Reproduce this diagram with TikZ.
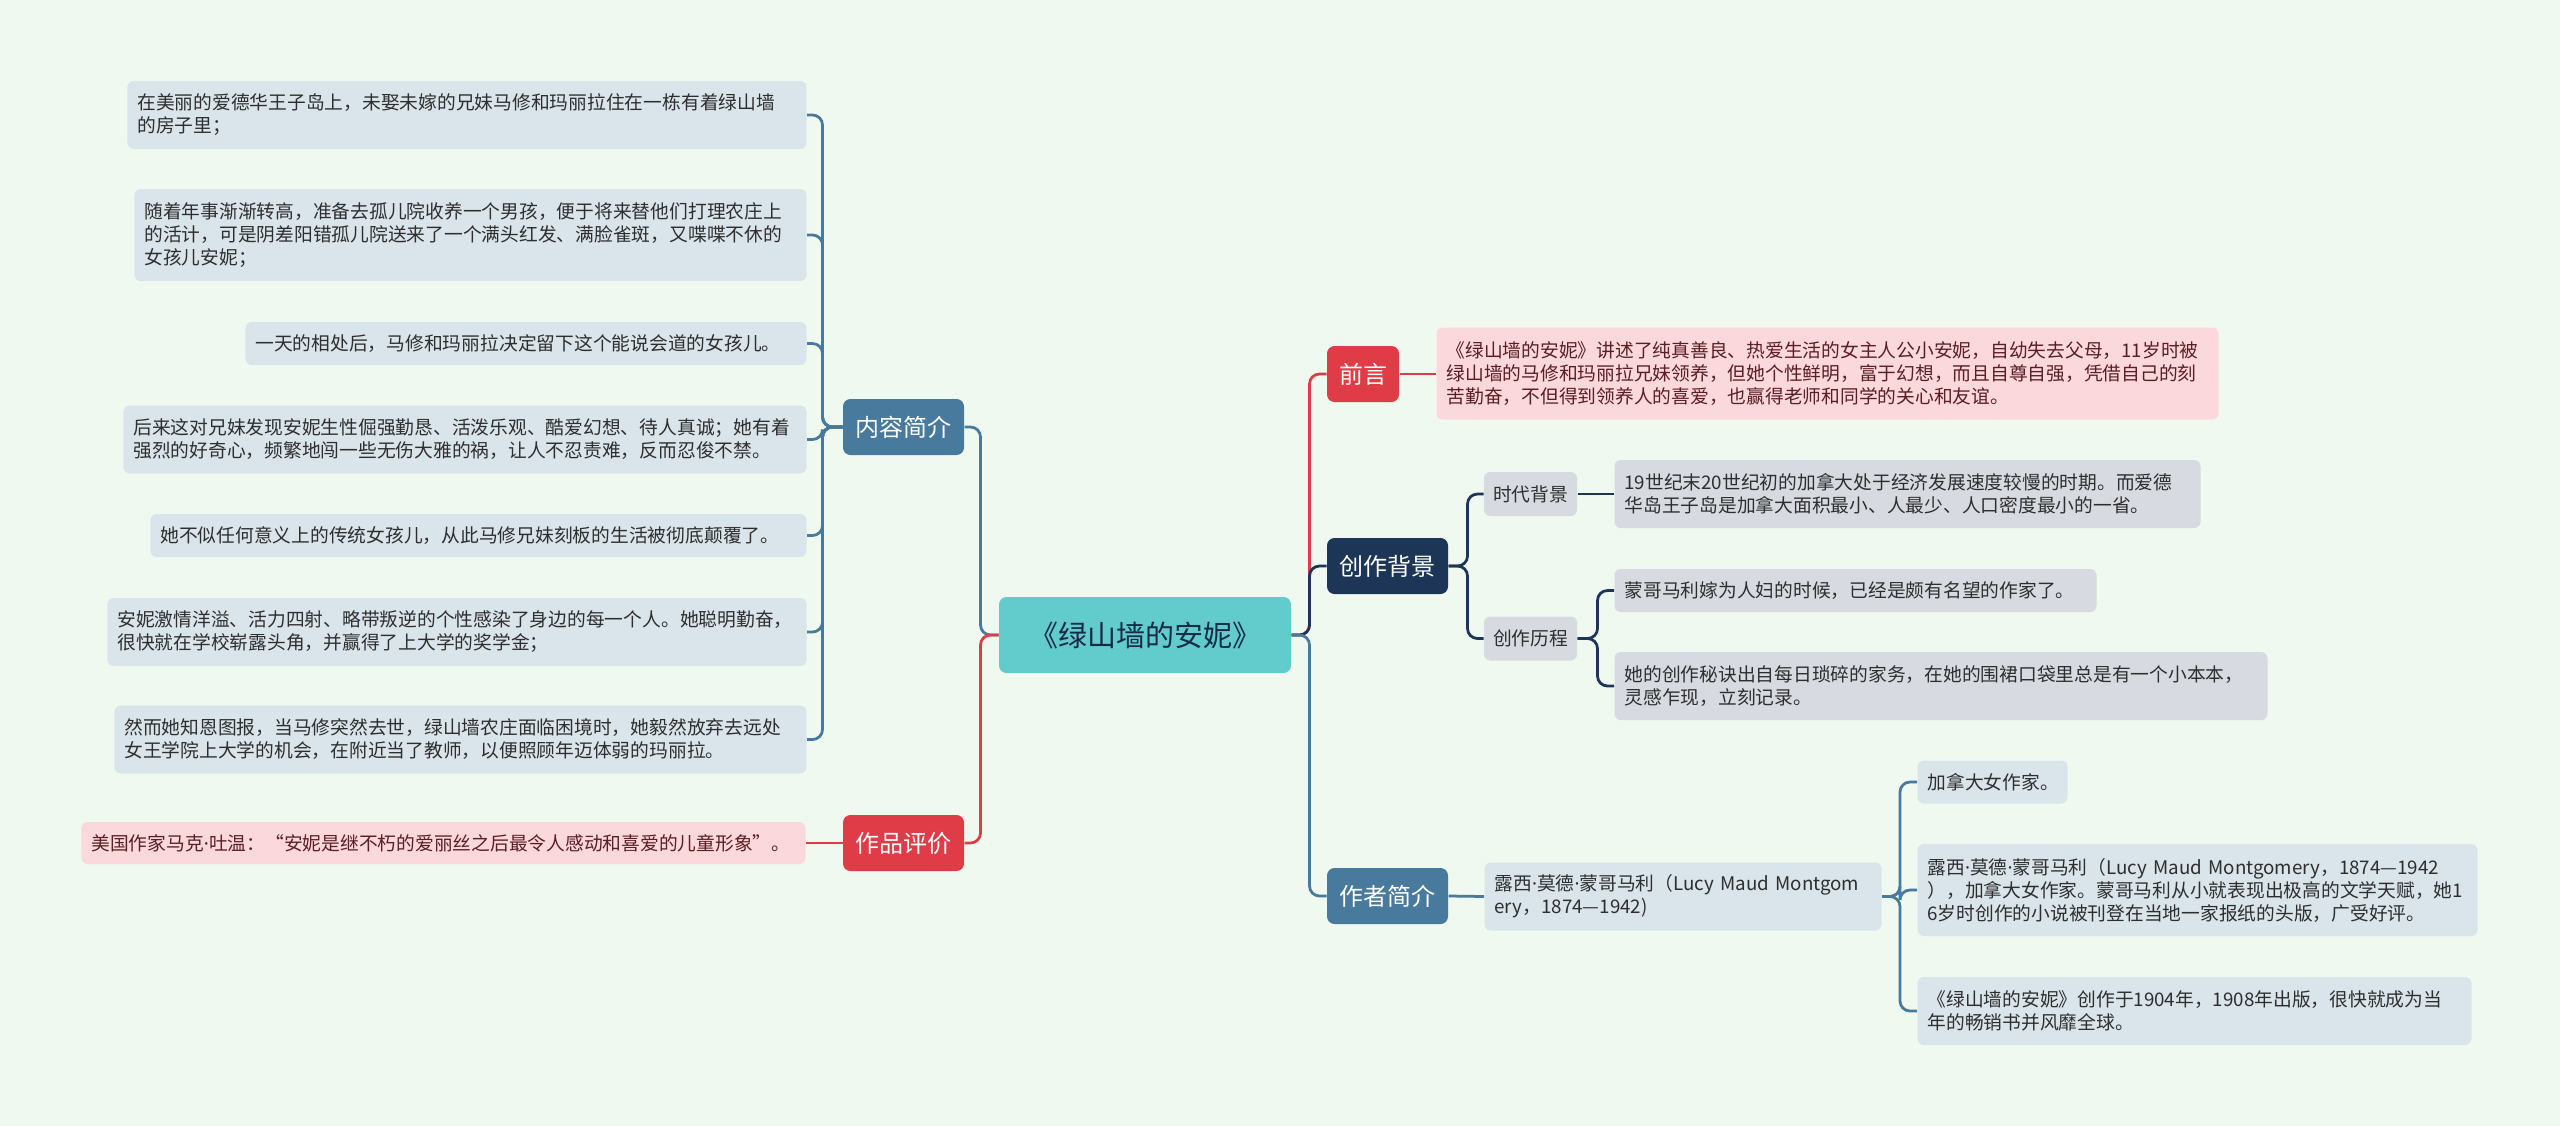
\documentclass[tikz,border=0pt]{standalone}
\usepackage{fontspec}
\setmainfont{Noto Sans CJK SC}
\newfontfamily\latfont{Noto Sans}
\newcommand{\mpkt}{{\latfont ·}}

\definecolor{hgrund}{HTML}{F0F9EF}
\definecolor{tuerkis}{HTML}{62CBCC}
\definecolor{stahlblau}{HTML}{477A9C}
\definecolor{rot}{HTML}{E03C48}
\definecolor{marine}{HTML}{1D3557}
\definecolor{hellblau}{HTML}{DAE4EB}
\definecolor{rosa}{HTML}{FAD8DC}
\definecolor{grau}{HTML}{D7DBE1}
\definecolor{schrift}{HTML}{2E2E2E}
\definecolor{braun}{HTML}{5A1E24}

\begin{document}
\begin{tikzpicture}[x=0.4pt,y=-0.4pt,
	haupt/.style={rounded corners=3pt,minimum width=48.4pt,minimum height=22.4pt,inner sep=0pt,text=white,font=\fontsize{9.6}{11}\selectfont},
	blatt/.style={rounded corners=2.5pt,inner xsep=4pt,inner ysep=0pt,align=left,font=\fontsize{7.5}{9.2}\selectfont,text=schrift,execute at begin node={\hyphenpenalty=10000\relax}},
	z1/.style={minimum height=17.2pt},
	z2/.style={minimum height=27.2pt},
	z3/.style={minimum height=36.8pt},
	ast/.style={line width=1.1pt,rounded corners=4pt}]
	% Hintergrund
	\fill[hgrund] (0,0) rectangle (2560,1126);
	\useasboundingbox (0,0) rectangle (2560,1126);
	
	% Zentrum
	\node[fill=tuerkis,rounded corners=3pt,minimum width=116.8pt,minimum height=30.4pt,text=marine!80!black,font=\fontsize{11.6}{13}\selectfont] (mitte) at (1145,635) {《绿山墙的安妮》};
	
	% Hauptzweige
	\node[haupt,fill=stahlblau] (inhalt) at (903.5,427) {内容简介};
	\node[haupt,fill=rot] (bewertung) at (903.5,843) {作品评价};
	\node[haupt,fill=rot,minimum width=28.8pt] (vorwort) at (1363,374) {前言};
	\node[haupt,fill=marine] (hintergrund) at (1387.5,566) {创作背景};
	\node[haupt,fill=stahlblau] (autor) at (1387.5,896) {作者简介};
	
	% Inhalt links
	\node[blatt,z2,fill=hellblau,anchor=east,text width=263.6pt] (l1) at (807,115) {在美丽的爱德华王子岛上，未娶未嫁的兄妹马修和玛丽拉住在一栋有着绿山墙\\的房子里；};
	\node[blatt,z3,fill=hellblau,anchor=east,text width=260.8pt] (l2) at (807,235) {随着年事渐渐转高，准备去孤儿院收养一个男孩，便于将来替他们打理农庄上\\的活计，可是阴差阳错孤儿院送来了一个满头红发、满脸雀斑，又喋喋不休的\\女孩儿安妮；};
	\node[blatt,z1,fill=hellblau,anchor=east,text width=216.4pt] (l3) at (807,343.5) {一天的相处后，马修和玛丽拉决定留下这个能说会道的女孩儿。};
	\node[blatt,z2,fill=hellblau,anchor=east,text width=265.2pt] (l4) at (807,439.5) {后来这对兄妹发现安妮生性倔强勤恳、活泼乐观、酷爱幻想、待人真诚；她有着\\强烈的好奇心，频繁地闯一些无伤大雅的祸，让人不忍责难，反而忍俊不禁。};
	\node[blatt,z1,fill=hellblau,anchor=east,text width=254.4pt] (l5) at (807,535.5) {她不似任何意义上的传统女孩儿，从此马修兄妹刻板的生活被彻底颠覆了。};
	\node[blatt,z2,fill=hellblau,anchor=east,text width=271.6pt] (l6) at (807,632) {安妮激情洋溢、活力四射、略带叛逆的个性感染了身边的每一个人。她聪明勤奋，\\很快就在学校崭露头角，并赢得了上大学的奖学金；};
	\node[blatt,z2,fill=hellblau,anchor=east,text width=268.8pt] (l7) at (807,739.5) {然而她知恩图报，当马修突然去世，绿山墙农庄面临困境时，她毅然放弃去远处\\女王学院上大学的机会，在附近当了教师，以便照顾年迈体弱的玛丽拉。};
	\node[blatt,fill=rosa,text=braun,minimum height=16.8pt,anchor=east,text width=281.6pt] (b1) at (806,843) {美国作家马克\mpkt 吐温：“安妮是继不朽的爱丽丝之后最令人感动和喜爱的儿童形象”。};
	
	% rechte Seite
	\node[blatt,z3,fill=rosa,text=braun,anchor=west,text width=304.8pt] (v1) at (1436,373.5) {《绿山墙的安妮》讲述了纯真善良、热爱生活的女主人公小安妮，自幼失去父母，11岁时被\\绿山墙的马修和玛丽拉兄妹领养，但她个性鲜明，富于幻想，而且自尊自强，凭借自己的刻\\苦勤奋，不但得到领养人的喜爱，也赢得老师和同学的关心和友谊。};
	\node[blatt,fill=grau,minimum width=37.2pt,minimum height=17.6pt,inner xsep=0pt,align=center] (zeit) at (1530.5,494) {时代背景};
	\node[blatt,fill=grau,minimum width=37.2pt,minimum height=17.6pt,inner xsep=0pt,align=center] (prozess) at (1530.5,638.5) {创作历程};
	\node[blatt,z2,fill=grau,anchor=west,text width=226.4pt] (z1) at (1614,494) {19世纪末20世纪初的加拿大处于经济发展速度较慢的时期。而爱德\\华岛王子岛是加拿大面积最小、人最少、人口密度最小的一省。};
	\node[blatt,z1,fill=grau,anchor=west,text width=184.8pt] (p1) at (1614,590.5) {蒙哥马利嫁为人妇的时候，已经是颇有名望的作家了。};
	\node[blatt,z2,fill=grau,anchor=west,text width=253.2pt] (p2) at (1614,686) {她的创作秘诀出自每日琐碎的家务，在她的围裙口袋里总是有一个小本本，\\灵感乍现，立刻记录。};
	\node[blatt,z2,fill=hellblau,anchor=west,text width=150.8pt] (a0) at (1484,896.5) {露西\mpkt 莫德\mpkt 蒙哥马利（Lucy~Maud~Montgom\\ery，1874—1942)};
	\node[blatt,z1,fill=hellblau,anchor=west,text width=52pt] (a1) at (1917,782) {加拿大女作家。};
	\node[blatt,z3,fill=hellblau,anchor=west,text width=216pt] (a2) at (1917,890) {露西\mpkt 莫德\mpkt 蒙哥马利（Lucy Maud Montgomery，1874—1942\\），加拿大女作家。蒙哥马利从小就表现出极高的文学天赋，她1\\6岁时创作的小说被刊登在当地一家报纸的头版，广受好评。};
	\node[blatt,z2,fill=hellblau,anchor=west,text width=213.6pt] (a3) at (1917,1011) {《绿山墙的安妮》创作于1904年，1908年出版，很快就成为当\\年的畅销书并风靡全球。};
	
	% Verbindungen
	\draw[ast,stahlblau] (mitte.west) -- ++(-18,0) |- (inhalt.east);
	\draw[ast,rot] (mitte.west) -- ++(-18,0) |- (bewertung.east);
	\draw[ast,rot] (mitte.east) -- ++(18,0) |- (vorwort.west);
	\draw[ast,marine] (mitte.east) -- ++(18,0) |- (hintergrund.west);
	\draw[ast,stahlblau] (mitte.east) -- ++(18,0) |- (autor.west);
	\foreach \b in {l1,l2,l3,l4,l5,l6,l7}
		\draw[ast,stahlblau] (inhalt.west) -- ++(-20,0) |- (\b.east);
	\draw[ast,rot] (bewertung.west) -- (b1.east);
	\draw[ast,rot,line width=0.9pt] (vorwort.east) -- (vorwort.east -| v1.west);
	\foreach \b in {zeit,prozess}
		\draw[ast,marine] (hintergrund.east) -- ++(19,0) |- (\b.west);
	\draw[ast,marine] (zeit.east) -- (z1.west);
	\foreach \b in {p1,p2}
		\draw[ast,marine] (prozess.east) -- ++(20,0) |- (\b.west);
	\draw[ast,stahlblau] (autor.east) -- (a0.west);
	\foreach \b in {a1,a2,a3}
		\draw[ast,stahlblau] (a0.east) -- ++(18,0) |- (\b.west);
\end{tikzpicture}
\end{document}
